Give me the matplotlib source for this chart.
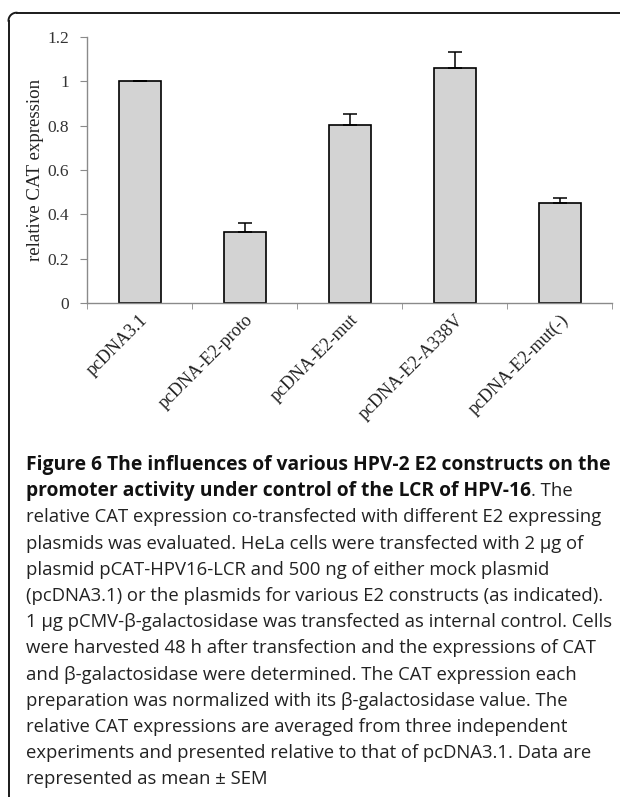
import matplotlib
matplotlib.use("Agg")
import matplotlib.pyplot as plt
import numpy as np
from matplotlib.lines import Line2D

categories = ["pcDNA3.1", "pcDNA-E2-proto", "pcDNA-E2-mut", "pcDNA-E2-A338V", "pcDNA-E2-mut(-)"]
values = [1.0, 0.319, 0.801, 1.059, 0.450]
errors = [0.003, 0.043, 0.053, 0.075, 0.025]
yticks = [0, 0.2, 0.4, 0.6, 0.8, 1, 1.2]
ytick_labels = ["0", "0.2", "0.4", "0.6", "0.8", "1", "1.2"]

W, H = 620, 797
fig = plt.figure(figsize=(W / 100, H / 100), dpi=100)

def fx(px):
    return px / W

def fy(py):
    return 1 - py / H

# frame with rounded top-left corner
r = 8
x0, y0 = 8.5, 12.7
fcol = "#1a1a1a"
fig.add_artist(Line2D([fx(x0), fx(x0)], [fy(y0 + r), 0], color=fcol, lw=1.4, transform=fig.transFigure))
fig.add_artist(Line2D([fx(x0 + r), 1], [fy(y0), fy(y0)], color=fcol, lw=1.4, transform=fig.transFigure))
t = np.linspace(np.pi / 2, np.pi, 30)
cx, cy = x0 + r, y0 + r
fig.add_artist(Line2D([fx(cx + r * np.cos(a)) for a in t], [fy(cy - r * np.sin(a)) for a in t],
                      color=fcol, lw=1.4, transform=fig.transFigure))

# axes
ax_left, ax_right = 87, 612
ax_top, ax_bottom = 37, 303
ax = fig.add_axes([fx(ax_left), fy(ax_bottom), (ax_right - ax_left) / W, (ax_bottom - ax_top) / H])
x = np.arange(len(categories))
ax.bar(x, values, width=0.4, color="#d3d3d3", edgecolor="black", linewidth=1.2, zorder=2)
ax.errorbar(x, values, yerr=[np.zeros(len(errors)), errors], fmt="none", ecolor="black",
            elinewidth=1.1, capsize=5, capthick=1.1, zorder=3)
ax.set_xlim(-0.5, len(categories) - 0.5)
ax.set_ylim(0, 1.2)
for s in ["top", "right"]:
    ax.spines[s].set_visible(False)
for s in ["left", "bottom"]:
    ax.spines[s].set_color("#8a8a8a")
    ax.spines[s].set_linewidth(1.0)

serif = ["Liberation Serif", "DejaVu Serif"]
ax.set_yticks(yticks)
ax.set_yticklabels(ytick_labels, fontfamily=serif, fontsize=12.5, color="#333333")
ax.tick_params(axis="y", direction="out", length=5, color="#8a8a8a", pad=8)
ax.set_xticks(x)
ax.set_xticklabels(categories, fontfamily=serif, fontsize=13, color="#222222",
                   rotation=45, ha="right", rotation_mode="anchor")
ax.tick_params(axis="x", which="major", length=0, pad=6)
ax.set_xticks(np.arange(len(categories) + 1) - 0.5, minor=True)
ax.tick_params(axis="x", which="minor", direction="out", length=4, color="#8a8a8a")
ax.set_ylabel("relative CAT expression", fontfamily=serif, fontsize=13.6, color="#222222")
ax.yaxis.set_label_coords((44 - ax_left) / (ax_right - ax_left), 0.5)

# caption
cap_font = "Open Sans"
fs_b = 13.9
fs_n = 13.3
left = 26
line1_y = 465
step = 26.2
bold_lines = ["Figure 6 The influences of various HPV-2 E2 constructs on the",
              "promoter activity under control of the LCR of HPV-16"]
normal_lines = [
    "relative CAT expression co-transfected with different E2 expressing",
    "plasmids was evaluated. HeLa cells were transfected with 2 \u00b5g of",
    "plasmid pCAT-HPV16-LCR and 500 ng of either mock plasmid",
    "(pcDNA3.1) or the plasmids for various E2 constructs (as indicated).",
    "1 \u00b5g pCMV-\u03b2-galactosidase was transfected as internal control. Cells",
    "were harvested 48 h after transfection and the expressions of CAT",
    "and \u03b2-galactosidase were determined. The CAT expression each",
    "preparation was normalized with its \u03b2-galactosidase value. The",
    "relative CAT expressions are averaged from three independent",
    "experiments and presented relative to that of pcDNA3.1. Data are",
    "represented as mean \u00b1 SEM",
]
fig.text(fx(left), fy(line1_y), bold_lines[0], fontfamily=cap_font, fontweight="bold",
         fontsize=fs_b, va="center", ha="left", color="#111111")
tb = fig.text(fx(left), fy(line1_y + step), bold_lines[1], fontfamily=cap_font, fontweight="bold",
              fontsize=fs_b, va="center", ha="left", color="#111111")
fig.canvas.draw()
bb = tb.get_window_extent(renderer=fig.canvas.get_renderer())
fig.text(bb.x1 / W, fy(line1_y + step), ". The", fontfamily=cap_font,
         fontsize=fs_n, va="center", ha="left", color="#222222")
for i, ln in enumerate(normal_lines):
    fig.text(fx(left), fy(line1_y + step * (i + 2)), ln, fontfamily=[cap_font, "DejaVu Sans"],
             fontsize=fs_n, va="center", ha="left", color="#222222")

fig.savefig("out.png", dpi=100)
